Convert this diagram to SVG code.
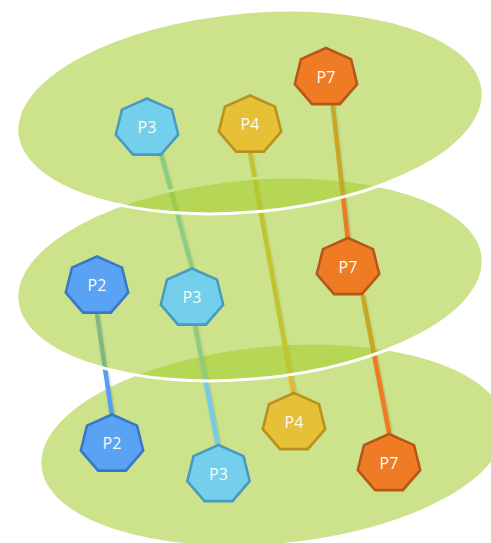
<svg xmlns="http://www.w3.org/2000/svg" xmlns:xlink="http://www.w3.org/1999/xlink" width="491" height="543" viewBox="0 0 491 543">
<style>
.plane{fill:#a4cc2c;fill-opacity:0.55;stroke:#ffffff;stroke-width:3}
.conn{fill:none;stroke-width:4.5;stroke-linecap:butt;filter:url(#sh)}
.c2{stroke:#579ff0}.c3{stroke:#72cdec}.c4{stroke:#e8b82a}.c7{stroke:#ef7a24}
.n{stroke-width:2.6;stroke-linejoin:miter}
.n2{fill:#5aa2f3;stroke:#3a78c6}
.n3{fill:#74cfec;stroke:#4a9ac0}
.n4{fill:#e6c036;stroke:#b8921c}
.n7{fill:#ef7c24;stroke:#b5561b}
.lbl{font-family:"Open Sans","Noto Sans","Liberation Sans",sans-serif;font-size:16px;fill:#fbfbf4;text-anchor:middle}
</style>
<defs>
<filter id="sh" x="-100%" y="-10%" width="300%" height="120%">
<feDropShadow dx="0.8" dy="0.8" stdDeviation="0.8" flood-color="#000" flood-opacity="0.25"/>
</filter>
<polygon id="hept" points="0,-29.5 25.02,-18.39 31.2,6.56 13.88,26.58 -13.88,26.58 -31.2,6.56 -25.02,-18.39"/>
</defs>

<ellipse id="plane-bottom" class="plane" cx="273" cy="445" rx="234" ry="100" transform="rotate(-5.3 273 445)"/>

<g id="connectors-lower">
<line class="conn c2" x1="97" y1="314" x2="111.7" y2="414"/>
<line class="conn c3" x1="195" y1="325" x2="217.5" y2="444"/>
<line class="conn c3" x1="161" y1="154" x2="192" y2="268"/>
<line class="conn c4" x1="250" y1="152" x2="293.5" y2="393"/>
<line class="conn c7" x1="362.7" y1="295" x2="389.3" y2="434"/>
</g>

<ellipse id="plane-middle" class="plane" cx="250" cy="279" rx="234" ry="100" transform="rotate(-5.3 250 279)"/>

<g id="connectors-upper">
<line class="conn c7" x1="332.7" y1="104" x2="347.7" y2="238"/>
</g>

<ellipse id="plane-top" class="plane" cx="250" cy="112" rx="234" ry="100" transform="rotate(-5.3 250 112)"/>

<g id="top-P3"><use href="#hept" class="n n3" x="147" y="128"/><text class="lbl" x="147" y="133">P3</text></g>
<g id="top-P4"><use href="#hept" class="n n4" x="250" y="125"/><text class="lbl" x="250" y="130">P4</text></g>
<g id="top-P7"><use href="#hept" class="n n7" x="326" y="77.5"/><text class="lbl" x="326" y="82.5">P7</text></g>

<g id="mid-P2"><use href="#hept" class="n n2" x="97" y="286"/><text class="lbl" x="97" y="291">P2</text></g>
<g id="mid-P3"><use href="#hept" class="n n3" x="192" y="298"/><text class="lbl" x="192" y="303">P3</text></g>
<g id="mid-P7"><use href="#hept" class="n n7" x="348" y="267.5"/><text class="lbl" x="348" y="272.5">P7</text></g>

<g id="bottom-P2"><use href="#hept" class="n n2" x="112" y="444"/><text class="lbl" x="112" y="449">P2</text></g>
<g id="bottom-P3"><use href="#hept" class="n n3" x="218.5" y="474.5"/><text class="lbl" x="218.5" y="479.5">P3</text></g>
<g id="bottom-P4"><use href="#hept" class="n n4" x="294" y="422.5"/><text class="lbl" x="294" y="427.5">P4</text></g>
<g id="bottom-P7"><use href="#hept" class="n n7" x="389" y="463.5"/><text class="lbl" x="389" y="468.5">P7</text></g>
</svg>
